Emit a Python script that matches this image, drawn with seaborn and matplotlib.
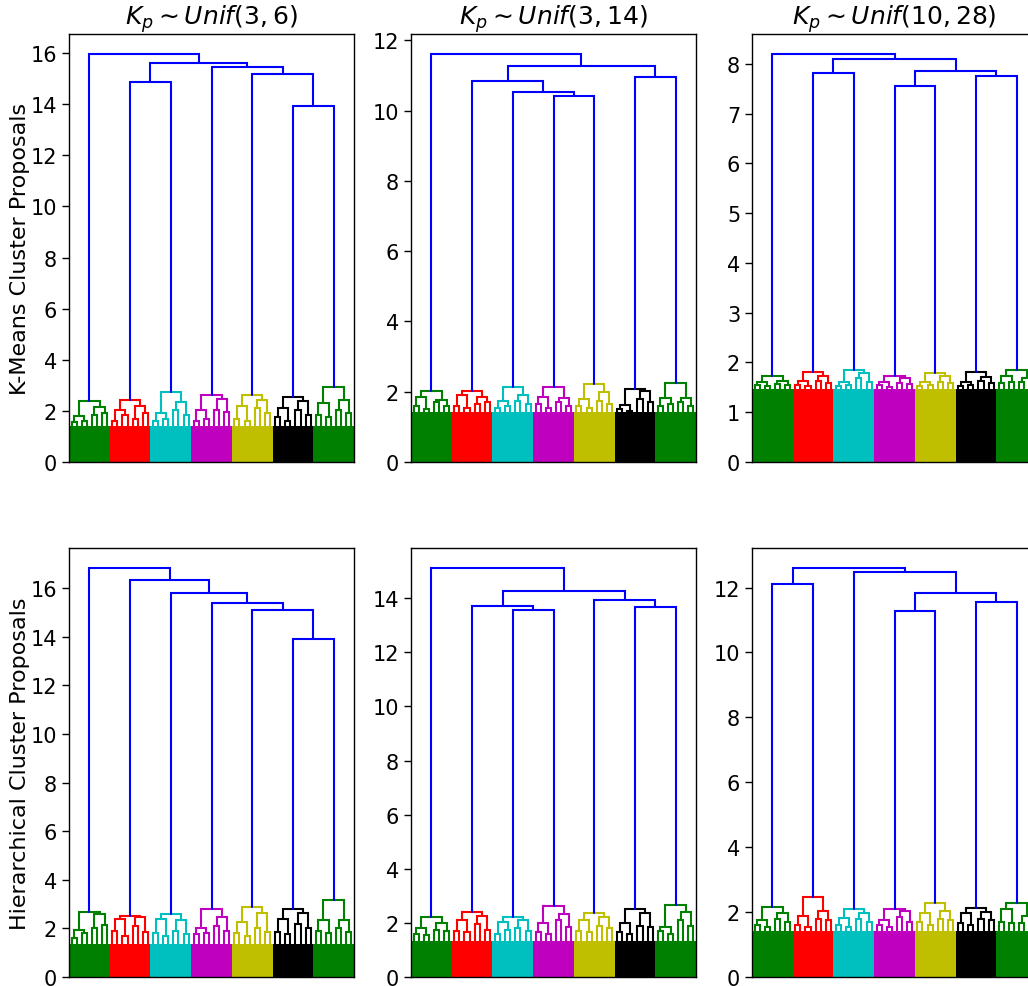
import numpy as np
import pandas as pd
import matplotlib
matplotlib.use("Agg")
import matplotlib.pyplot as plt
import seaborn as sns

# ---------------- data ----------------
cluster_colors = ["g", "r", "c", "m", "y", "k", "g"]
link_color = "b"
titles = [r"$K_p \sim Unif(3, 6)$", r"$K_p \sim Unif(3, 14)$", r"$K_p \sim Unif(10, 28)$"]
row_labels = ["K-Means Cluster Proposals", "Hierarchical Cluster Proposals"]

# top-level (blue) merges: (left, right, height); integers are colored clusters 0..6
tree_km_a = (0, ((1, 2, 14.88), (3, (4, (5, 6, 13.92), 15.19), 15.45), 15.63), 15.95)
tree_km_b = (0, ((1, (2, (3, 4, 10.41), 10.54), 10.84), (5, 6, 10.95), 11.26), 11.60)
tree_km_c = (0, ((1, 2, 7.82), ((3, 4, 7.55), (5, 6, 7.75), 7.85), 8.10), 8.19)
tree_hc_a = (0, (1, (2, (3, (4, (5, 6, 13.89), 15.10), 15.38), 15.81), 16.33), 16.81)
tree_hc_b = (0, ((1, (2, 3, 13.58), 13.70), (4, (5, 6, 13.67), 13.92), 14.27), 15.10)
tree_hc_c = ((0, 1, 12.10), (2, ((3, 4, 11.27), (5, 6, 11.57), 11.83), 12.48), 12.59)

# colored sub-cluster heights: [root, child L, child R, grand 1..4]
sub_km_a = [[2.38, 1.80, 2.15, 1.55, 1.60, 1.85, 1.90],
            [2.43, 2.05, 2.18, 1.60, 1.85, 1.70, 1.90],
            [2.72, 1.92, 2.34, 1.60, 1.70, 2.05, 1.85],
            [2.63, 2.05, 2.47, 1.60, 1.70, 2.05, 1.95],
            [2.64, 2.18, 2.44, 1.70, 1.60, 2.10, 1.90],
            [2.54, 2.12, 2.38, 1.75, 1.60, 2.05, 1.85],
            [2.94, 2.31, 2.42, 1.85, 1.75, 2.05, 1.90]]
sub_km_b = [[2.03, 1.86, 1.76, 1.60, 1.50, 1.70, 1.60],
            [2.03, 1.90, 1.86, 1.60, 1.55, 1.65, 1.70],
            [2.13, 1.73, 1.92, 1.55, 1.60, 1.75, 1.65],
            [2.13, 1.86, 1.83, 1.65, 1.55, 1.70, 1.60],
            [2.22, 1.79, 2.00, 1.60, 1.55, 1.75, 1.65],
            [2.07, 1.63, 2.02, 1.50, 1.45, 1.80, 1.70],
            [2.24, 1.81, 1.83, 1.60, 1.65, 1.70, 1.60]]
sub_km_c = [[1.72, 1.60, 1.62, 1.55, 1.52, 1.56, 1.54],
            [1.80, 1.63, 1.72, 1.55, 1.52, 1.62, 1.58],
            [1.85, 1.60, 1.78, 1.52, 1.55, 1.68, 1.60],
            [1.73, 1.60, 1.68, 1.55, 1.50, 1.58, 1.56],
            [1.78, 1.60, 1.72, 1.52, 1.55, 1.60, 1.58],
            [1.81, 1.60, 1.70, 1.52, 1.55, 1.62, 1.58],
            [1.85, 1.72, 1.68, 1.58, 1.60, 1.60, 1.55]]
sub_hc_a = [[2.67, 1.95, 2.59, 1.60, 1.80, 2.00, 2.15],
            [2.50, 2.38, 2.47, 1.90, 1.70, 2.10, 1.85],
            [2.60, 2.38, 2.34, 1.80, 1.70, 1.90, 1.75],
            [2.78, 2.00, 2.47, 1.75, 1.80, 2.10, 1.90],
            [2.86, 2.26, 2.63, 1.80, 1.70, 2.00, 1.85],
            [2.81, 2.38, 2.63, 1.85, 1.75, 2.20, 2.00],
            [3.15, 2.36, 2.36, 1.90, 1.80, 2.00, 1.85]]
sub_hc_b = [[2.22, 1.80, 2.01, 1.60, 1.55, 1.75, 1.70],
            [2.42, 2.11, 2.26, 1.70, 1.65, 1.95, 1.75],
            [2.23, 2.05, 2.09, 1.60, 1.75, 1.80, 1.70],
            [2.62, 1.99, 2.32, 1.65, 1.60, 2.10, 1.85],
            [2.38, 2.09, 2.21, 1.70, 1.65, 1.90, 1.80],
            [2.51, 1.99, 2.36, 1.65, 1.60, 1.90, 1.85],
            [2.66, 1.86, 2.42, 1.70, 1.60, 2.10, 1.90]]
sub_hc_c = [[2.16, 1.77, 1.98, 1.60, 1.55, 1.80, 1.70],
            [2.48, 1.87, 2.03, 1.60, 1.55, 1.80, 1.75],
            [2.08, 1.82, 1.98, 1.60, 1.55, 1.80, 1.70],
            [2.10, 1.77, 2.03, 1.60, 1.55, 1.85, 1.70],
            [2.28, 1.98, 2.03, 1.70, 1.60, 1.80, 1.75],
            [2.14, 1.98, 2.00, 1.65, 1.60, 1.80, 1.75],
            [2.29, 2.08, 1.87, 1.70, 1.65, 1.65, 1.60]]

# height of the dense leaf band per panel
band_km = [1.42, 1.42, 1.47]
band_hc = [1.35, 1.33, 1.42]

panels = [[(tree_km_a, sub_km_a, band_km[0]), (tree_km_b, sub_km_b, band_km[1]), (tree_km_c, sub_km_c, band_km[2])],
          [(tree_hc_a, sub_hc_a, band_hc[0]), (tree_hc_b, sub_hc_b, band_hc[1]), (tree_hc_c, sub_hc_c, band_hc[2])]]

# ---------------- style ----------------
sns.set_style("ticks", {"axes.edgecolor": "black", "xtick.color": "black", "ytick.color": "black"})
plt.rcParams["font.family"] = ["DejaVu Sans"]
plt.rcParams["mathtext.fontset"] = "dejavusans"
plt.rcParams["text.color"] = "black"
plt.rcParams["axes.labelcolor"] = "black"

LW = 1.5


def u_link(ax, xl, hl, xr, hr, h, color):
    seg = pd.DataFrame({"x": [xl, xl, xr, xr], "y": [hl, h, h, hr]})
    ax.plot(seg["x"], seg["y"], color=color, lw=LW, solid_joinstyle="miter")


def draw_cluster(ax, i, heights, band):
    col = cluster_colors[i]
    ax.fill_between([i, i + 1], 0, band, color=col, lw=0)
    root, cl, cr, *grand = heights
    leaves = [i + (k + 0.5) / 8 for k in range(8)]
    gx = []
    for j, gh in enumerate(grand):
        xl, xr = leaves[2 * j], leaves[2 * j + 1]
        u_link(ax, xl, band, xr, band, gh, col)
        gx.append((xl + xr) / 2)
    cx = []
    for c, ch in enumerate([cl, cr]):
        xl, xr = gx[2 * c], gx[2 * c + 1]
        u_link(ax, xl, grand[2 * c], xr, grand[2 * c + 1], ch, col)
        cx.append((xl + xr) / 2)
    u_link(ax, cx[0], cl, cx[1], cr, root, col)
    return (cx[0] + cx[1]) / 2, root


def draw_tree(ax, node, subs, band):
    if isinstance(node, int):
        return draw_cluster(ax, node, subs[node], band)
    left, right, h = node
    xl, hl = draw_tree(ax, left, subs, band)
    xr, hr = draw_tree(ax, right, subs, band)
    u_link(ax, xl, hl, xr, hr, h, link_color)
    return (xl + xr) / 2, h


W, H = 1028, 987
fig = plt.figure(figsize=(W / 100, H / 100), dpi=100)
lefts = [69, 411, 752]
tops = [35, 549]
bottoms = [463, 978]
aw = 285

for r in range(2):
    for c in range(3):
        tree, subs, band = panels[r][c]
        ax = fig.add_axes([lefts[c] / W, 1 - bottoms[r] / H, aw / W, (bottoms[r] - tops[r]) / H])
        _, top_h = draw_tree(ax, tree, subs, band)
        ax.set_xlim(0, 7)
        ax.set_ylim(0, top_h * 1.05)
        ax.set_xticks([])
        ax.tick_params(axis="y", labelsize=15, direction="out", length=5, width=1)
        for s in ax.spines.values():
            s.set_linewidth(1.0)
            s.set_color("black")
        if r == 0:
            ax.set_title(titles[c], fontsize=18, pad=6)
        if c == 0:
            ax.set_ylabel(row_labels[r], fontsize=16)
            ax.yaxis.set_label_coords(-0.136, 0.5)

fig.savefig("out.png", dpi=100)
